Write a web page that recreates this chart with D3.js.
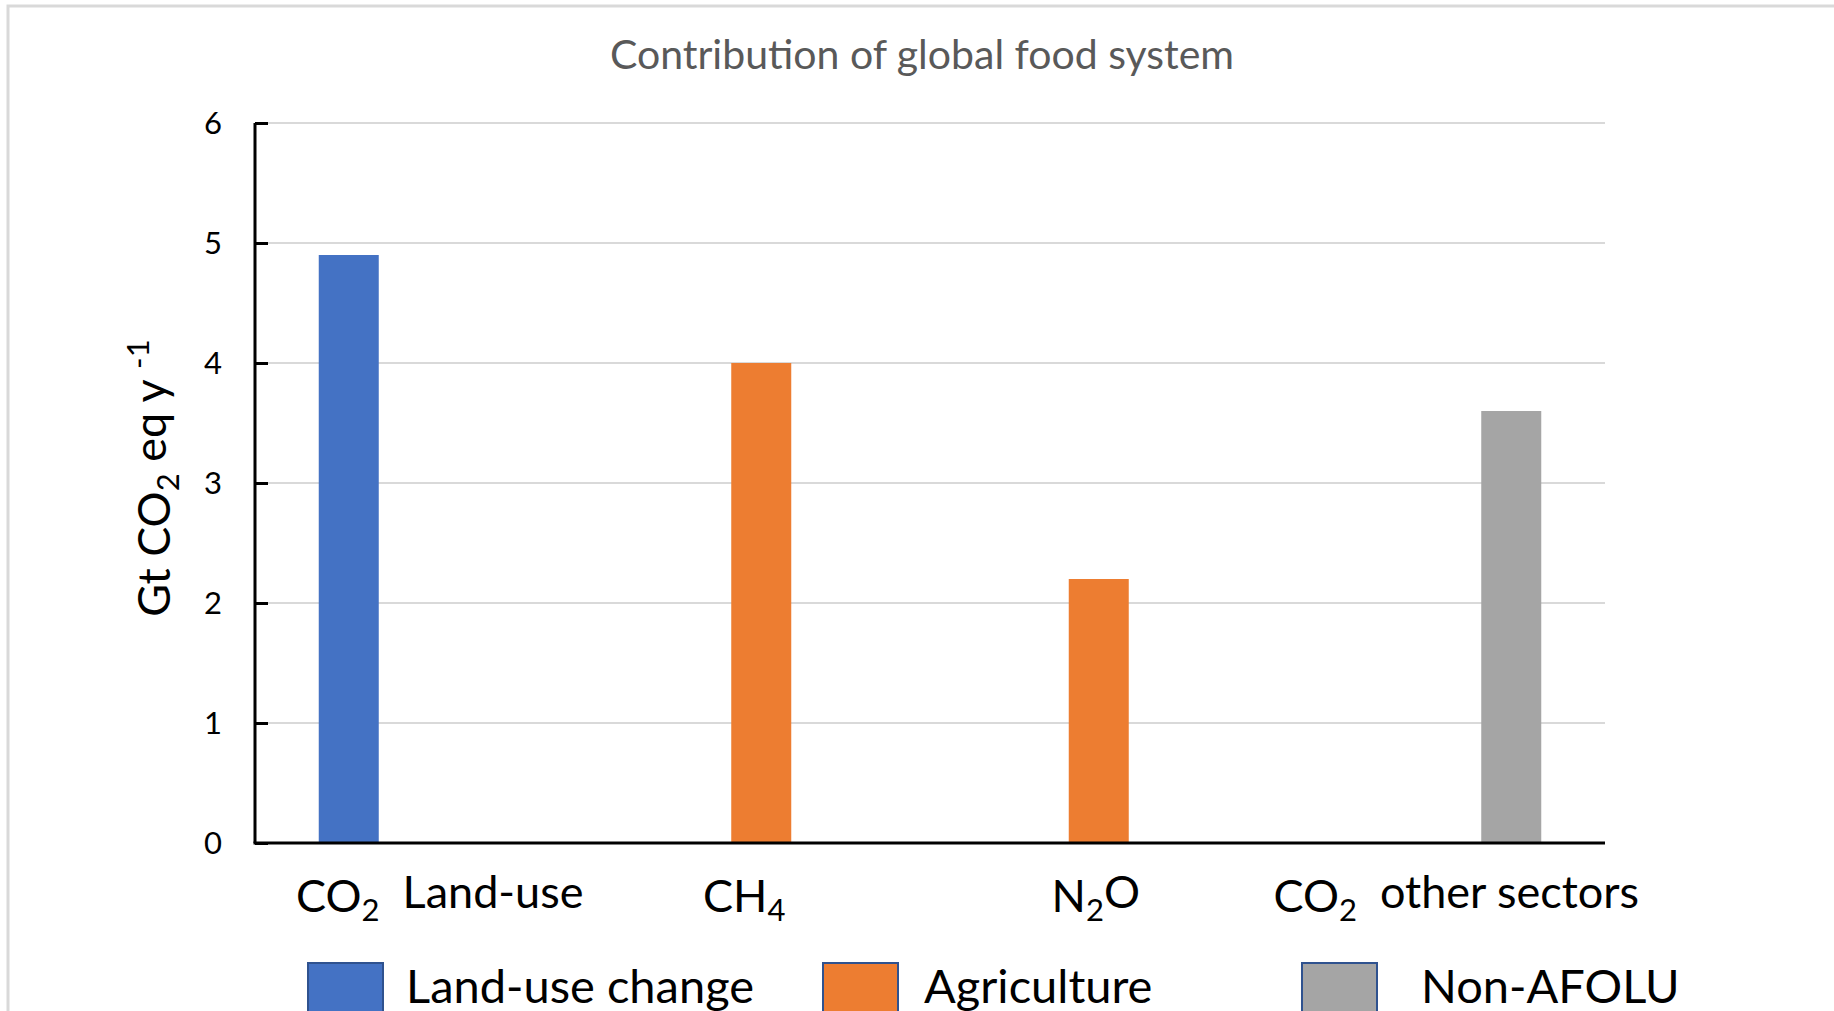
<!DOCTYPE html>
<html>
<head>
<meta charset="utf-8">
<script src="https://cdn.jsdelivr.net/npm/d3@7"></script>
<style>
  html, body { margin: 0; padding: 0; background: #ffffff; }
  svg { display: block; }
  text { font-family: Lato, "Open Sans", sans-serif; }
</style>
</head>
<body>
<svg id="chart" width="1834" height="1011"></svg>
<script>
// ---- data -------------------------------------------------------------
const categories = ["CO_2  Land-use", "CH_4", "N_2O", "CO_2  other sectors"];
const seriesNames = ["Land-use change", "Agriculture", "Non-AFOLU"];
const landUseChange = [4.9, 0, 0, 0];
const agriculture = [0, 4.0, 2.2, 0];
const nonAfolu = [0, 0, 0, 3.6];
const yTickValues = [0, 1, 2, 3, 4, 5, 6];
const seriesColors = ["#4472c4", "#ed7d31", "#a5a5a5"];
const chartTitle = "Contribution of global food system";

// ---- layout -----------------------------------------------------------
const plot = { left: 255, right: 1605, top: 123, bottom: 843 };
const legendX = [308, 823, 1302];
const legendTextDx = [98, 101, 119];
const categoryLabelDx = [16, -17, -3, 20];

const svg = d3.select("#chart");

// outer frame
svg.append("rect")
  .attr("x", 8).attr("y", 6)
  .attr("width", 2000).attr("height", 2000)
  .attr("fill", "none")
  .attr("stroke", "#d9d9d9")
  .attr("stroke-width", 3);

// title
svg.append("text")
  .attr("x", 922).attr("y", 69)
  .attr("text-anchor", "middle")
  .attr("font-size", 41)
  .attr("fill", "#595959")
  .text(chartTitle);

// scales
const x0 = d3.scaleBand()
  .domain(categories)
  .range([plot.left, plot.right])
  .paddingInner(0).paddingOuter(0);

const x1 = d3.scaleBand()
  .domain(seriesNames)
  .range([0, x0.bandwidth()])
  .paddingInner(0.2)
  .paddingOuter(0.85);

const y = d3.scaleLinear()
  .domain([0, 6])
  .range([plot.bottom, plot.top]);

// gridlines
svg.append("g")
  .selectAll("line")
  .data(yTickValues.filter(v => v > 0))
  .join("line")
  .attr("x1", plot.left).attr("x2", plot.right)
  .attr("y1", d => y(d)).attr("y2", d => y(d))
  .attr("stroke", "#d9d9d9")
  .attr("stroke-width", 2);

// bars
const seriesValues = [landUseChange, agriculture, nonAfolu];
const barData = [];
seriesNames.forEach((s, si) => {
  categories.forEach((c, ci) => {
    const v = seriesValues[si][ci];
    if (v > 0) barData.push({ category: c, series: s, value: v, color: seriesColors[si] });
  });
});

svg.append("g")
  .selectAll("rect")
  .data(barData)
  .join("rect")
  .attr("x", d => x0(d.category) + x1(d.series))
  .attr("width", x1.bandwidth())
  .attr("y", d => y(d.value))
  .attr("height", d => y(0) - y(d.value))
  .attr("fill", d => d.color);

// y axis (inside ticks, labels drawn separately)
const yAxis = d3.axisRight(y)
  .tickValues(yTickValues)
  .tickSize(13)
  .tickFormat("");
const yAxisG = svg.append("g")
  .attr("transform", `translate(${plot.left},0)`)
  .call(yAxis);
yAxisG.select(".domain").attr("stroke", "#000").attr("stroke-width", 3)
  .attr("d", `M0,${plot.top}V${plot.bottom}`);
yAxisG.selectAll(".tick line").attr("stroke", "#000").attr("stroke-width", 3);

svg.append("g")
  .selectAll("text")
  .data(yTickValues)
  .join("text")
  .attr("x", 222)
  .attr("y", d => y(d))
  .attr("dy", "0.36em")
  .attr("text-anchor", "end")
  .attr("font-size", 31)
  .attr("fill", "#000")
  .text(d => d);

// x axis line
svg.append("line")
  .attr("x1", plot.left - 1.5).attr("x2", plot.right)
  .attr("y1", y(0)).attr("y2", y(0))
  .attr("stroke", "#000")
  .attr("stroke-width", 3);

// text with "_x" subscripts
function richText(sel, str, subSize) {
  const parts = str.split(/(_.)/).filter(p => p.length);
  let shifted = false;
  parts.forEach(p => {
    if (p[0] === "_") {
      sel.append("tspan").attr("font-size", subSize).attr("dy", "0.3em").text(p[1]);
      shifted = true;
    } else {
      const t = sel.append("tspan").text(p);
      if (shifted) { t.attr("dy", "-0.3em"); shifted = false; }
    }
  });
}

// category labels
svg.append("g")
  .selectAll("text")
  .data(categories)
  .join("text")
  .attr("x", (d, i) => x0(d) + x0.bandwidth() / 2 + categoryLabelDx[i])
  .attr("y", 912)
  .attr("text-anchor", "middle")
  .attr("font-size", 45)
  .attr("fill", "#000")
  .style("white-space", "pre")
  .each(function (d) { richText(d3.select(this), d, 31); });

// y axis title
const yTitle = svg.append("text")
  .attr("transform", "translate(170,478) rotate(-90)")
  .attr("text-anchor", "middle")
  .attr("font-size", 45)
  .attr("fill", "#000")
  .style("white-space", "pre");
yTitle.append("tspan").text("Gt CO");
yTitle.append("tspan").attr("font-size", 31).attr("dy", "0.3em").text("2");
yTitle.append("tspan").attr("dy", "-0.3em").text(" eq y ");
yTitle.append("tspan").attr("font-size", 31).attr("dy", "-0.55em").text("-1");

// legend
const legend = svg.append("g")
  .selectAll("g")
  .data(seriesNames)
  .join("g")
  .attr("transform", (d, i) => `translate(${legendX[i]},963)`);
legend.append("rect")
  .attr("width", 75).attr("height", 70)
  .attr("fill", (d, i) => seriesColors[i])
  .attr("stroke", "#2f528f")
  .attr("stroke-width", 2);
legend.append("text")
  .attr("x", (d, i) => legendTextDx[i])
  .attr("y", 40)
  .attr("font-size", 47)
  .attr("fill", "#000")
  .text(d => d);
</script>
</body>
</html>
